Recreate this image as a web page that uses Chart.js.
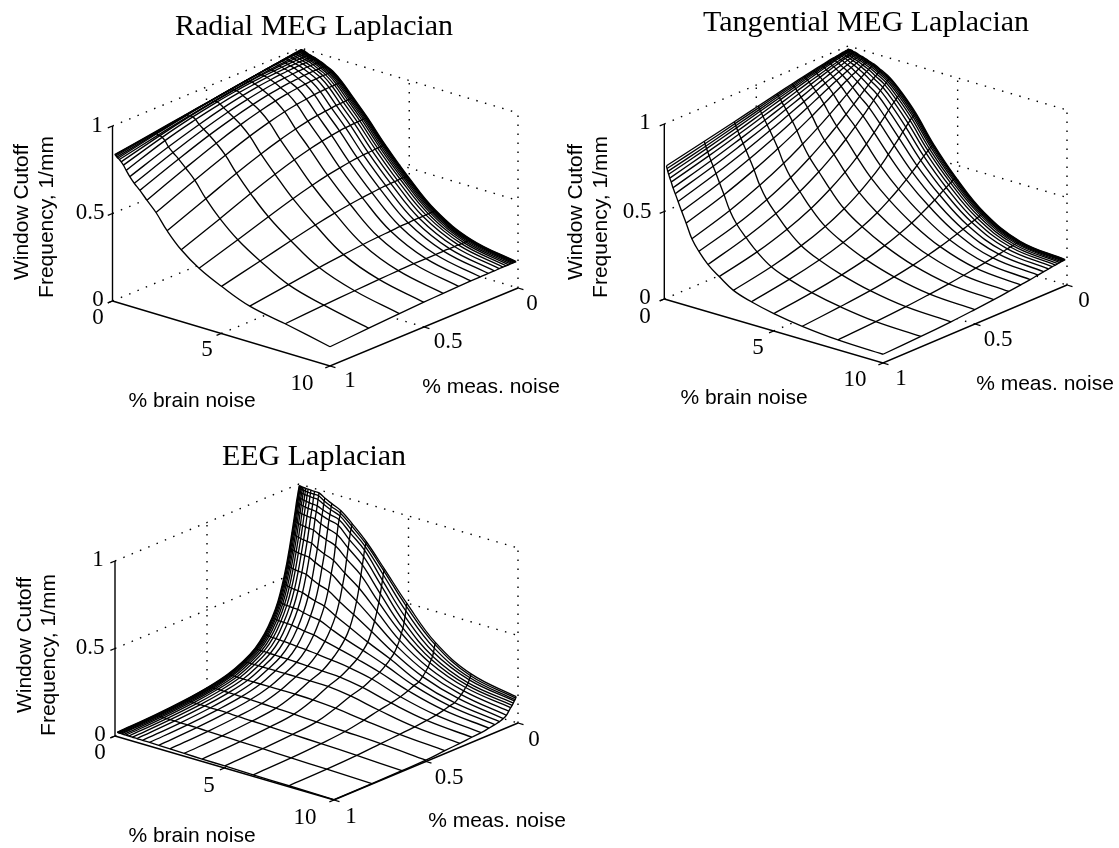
<!DOCTYPE html>
<html>
<head>
<meta charset="utf-8">
<title>Window cutoff frequency</title>
<script src="https://cdn.jsdelivr.net/npm/chart.js@4"></script>
<style>
  body { margin: 0; background: #fff; }
  #page { position: relative; width: 1119px; height: 848px; overflow: hidden; }
  canvas { position: absolute; }
</style>
</head>
<body>
<div id="page">
  <canvas id="radial"></canvas>
  <canvas id="tangential"></canvas>
  <canvas id="eeg"></canvas>
</div>
<script>
var brainLevels = [0.1,0.126,0.158,0.2,0.251,0.316,0.398,0.501,0.631,0.794,1,1.26,1.58,2,2.51,3.16,3.98,5.01,6.31,7.94,10];
var measLevels = [.01,.0126,.0158,.02,.0251,.0316,.0398,.0501,.0631,.0794,.1,.126,.158,.2,.251,.316,.398,.501,.631,.794,1];

var zTicks = [0, 0.5, 1];
var brainTicks = [0, 5, 10];
var measTicks = [0, 0.5, 1];

// one row per brain noise level, one column per meas. noise level
var radialCutoff = [
  [.998,.998,.997,.997,.996,.995,.994,.992,.99,.987,.984,.98,.975,.968,.96,.949,.936,.92,.899,.873,.84],
  [.999,.998,.998,.997,.997,.996,.995,.993,.991,.989,.986,.982,.977,.97,.962,.951,.938,.921,.9,.873,.84],
  [.999,.999,.999,.998,.998,.997,.996,.995,.993,.991,.988,.985,.98,.974,.966,.956,.943,.925,.903,.873,.835],
  [.999,.999,.999,.998,.998,.997,.996,.995,.994,.993,.99,.987,.983,.977,.97,.96,.946,.929,.904,.872,.83],
  [.999,.999,.999,.999,.999,.999,.998,.997,.996,.995,.993,.99,.987,.982,.975,.965,.952,.934,.908,.873,.825],
  [.994,.994,.994,.994,.994,.994,.993,.992,.991,.99,.988,.985,.982,.977,.97,.96,.947,.929,.903,.868,.82],
  [.99,.99,.99,.99,.99,.989,.989,.989,.988,.988,.986,.985,.982,.978,.973,.965,.952,.934,.908,.868,.81],
  [.985,.985,.985,.985,.985,.985,.985,.984,.984,.983,.983,.981,.979,.976,.971,.964,.952,.934,.906,.862,.795],
  [.98,.98,.98,.98,.98,.98,.98,.979,.979,.979,.978,.977,.975,.972,.967,.959,.947,.927,.896,.848,.77],
  [.975,.975,.975,.975,.975,.975,.975,.975,.974,.974,.973,.972,.97,.966,.96,.951,.936,.912,.874,.819,.74],
  [.965,.965,.965,.965,.965,.965,.965,.965,.964,.964,.963,.961,.959,.955,.949,.938,.921,.895,.854,.794,.71],
  [.95,.95,.95,.95,.95,.95,.95,.949,.949,.949,.948,.946,.943,.939,.932,.921,.902,.873,.83,.766,.679],
  [.93,.93,.93,.93,.93,.93,.93,.929,.929,.928,.927,.925,.923,.918,.91,.897,.876,.844,.796,.727,.635],
  [.885,.885,.885,.885,.885,.885,.885,.884,.884,.884,.883,.881,.878,.872,.864,.851,.828,.794,.743,.673,.58],
  [.815,.815,.815,.815,.814,.814,.814,.813,.812,.811,.81,.807,.803,.797,.787,.771,.747,.711,.659,.586,.495],
  [.725,.725,.725,.725,.725,.725,.724,.723,.723,.722,.72,.718,.714,.707,.697,.681,.656,.619,.567,.496,.41],
  [.6,.6,.6,.6,.6,.599,.599,.598,.598,.596,.595,.593,.59,.584,.575,.562,.541,.51,.465,.406,.335],
  [.46,.46,.46,.46,.46,.46,.46,.46,.458,.458,.457,.456,.453,.449,.443,.434,.42,.398,.366,.323,.27],
  [.31,.31,.31,.31,.31,.31,.31,.31,.309,.308,.308,.308,.306,.304,.3,.296,.289,.277,.261,.236,.205],
  [.205,.205,.205,.205,.205,.205,.205,.205,.205,.205,.205,.205,.205,.204,.203,.203,.2,.196,.189,.179,.165],
  [.155,.155,.155,.155,.155,.155,.155,.155,.155,.155,.155,.154,.154,.153,.152,.15,.147,.142,.135,.124,.11]
];

var tangentialCutoff = [
  [.989,.989,.989,.988,.988,.987,.986,.984,.982,.979,.976,.971,.964,.955,.944,.929,.909,.884,.852,.813,.765],
  [.989,.989,.989,.988,.987,.986,.985,.984,.981,.978,.974,.969,.962,.952,.94,.924,.903,.876,.842,.8,.75],
  [.989,.989,.988,.988,.987,.986,.985,.983,.981,.977,.973,.967,.96,.949,.936,.919,.896,.867,.831,.787,.735],
  [.989,.989,.988,.988,.987,.986,.984,.982,.98,.977,.972,.965,.957,.946,.932,.913,.889,.859,.821,.775,.72],
  [.989,.989,.988,.987,.987,.985,.984,.982,.979,.975,.97,.963,.954,.942,.926,.906,.88,.847,.806,.758,.7],
  [.984,.984,.983,.982,.981,.98,.978,.976,.973,.969,.963,.956,.946,.933,.917,.895,.867,.833,.79,.739,.68],
  [.984,.983,.983,.982,.981,.979,.977,.975,.971,.967,.96,.952,.941,.926,.907,.883,.852,.814,.768,.713,.65],
  [.979,.978,.977,.976,.975,.974,.971,.968,.965,.959,.952,.943,.931,.914,.894,.867,.834,.792,.743,.685,.62],
  [.973,.973,.972,.971,.969,.967,.965,.962,.957,.951,.943,.932,.918,.9,.876,.846,.809,.763,.709,.648,.58],
  [.968,.967,.966,.965,.963,.961,.958,.954,.948,.941,.931,.918,.902,.88,.853,.818,.776,.725,.666,.6,.53],
  [.958,.957,.955,.954,.952,.949,.945,.94,.933,.924,.912,.897,.877,.851,.818,.778,.73,.674,.61,.541,.47],
  [.947,.945,.944,.942,.939,.935,.93,.923,.914,.902,.886,.866,.84,.807,.767,.719,.663,.599,.531,.46,.39],
  [.926,.924,.922,.919,.916,.911,.904,.896,.885,.87,.851,.826,.796,.757,.712,.658,.597,.53,.461,.393,.33],
  [.895,.893,.891,.888,.883,.877,.87,.86,.846,.83,.807,.779,.744,.702,.652,.595,.532,.465,.397,.333,.27],
  [.834,.832,.829,.825,.82,.813,.805,.794,.779,.76,.734,.704,.667,.621,.569,.512,.451,.387,.326,.269,.22],
  [.739,.736,.733,.729,.724,.717,.708,.696,.68,.66,.634,.603,.566,.52,.472,.419,.363,.308,.256,.208,.165],
  [.59,.588,.586,.583,.579,.572,.565,.556,.544,.527,.507,.482,.452,.417,.378,.334,.29,.246,.204,.166,.13],
  [.436,.435,.434,.431,.429,.424,.419,.412,.403,.392,.378,.359,.339,.313,.284,.253,.22,.187,.157,.128,.1],
  [.283,.282,.282,.28,.279,.277,.274,.27,.265,.259,.25,.24,.228,.213,.196,.177,.156,.135,.114,.095,.075],
  [.179,.179,.178,.178,.177,.176,.174,.172,.17,.167,.162,.157,.15,.142,.133,.121,.109,.096,.082,.069,.057],
  [.149,.149,.149,.148,.148,.147,.146,.144,.142,.14,.136,.132,.127,.12,.113,.104,.094,.083,.071,.06,.05]
];

var eegCutoff = [
  [1,.985,.97,.945,.915,.87,.815,.75,.67,.58,.485,.39,.31,.235,.175,.13,.093,.067,.048,.034,.025],
  [.999,.984,.969,.943,.913,.868,.813,.747,.668,.578,.483,.389,.309,.234,.175,.13,.093,.067,.048,.034,.025],
  [.998,.983,.967,.94,.91,.866,.81,.744,.665,.575,.48,.387,.308,.233,.174,.13,.092,.067,.048,.034,.024],
  [.997,.982,.966,.938,.908,.864,.808,.741,.663,.573,.478,.386,.307,.232,.174,.13,.092,.066,.047,.033,.024],
  [.996,.981,.964,.935,.905,.862,.805,.738,.66,.57,.475,.384,.306,.231,.173,.13,.092,.066,.047,.033,.024],
  [.995,.98,.963,.933,.903,.86,.803,.735,.658,.568,.473,.383,.305,.23,.173,.13,.092,.066,.047,.033,.024],
  [.994,.979,.961,.93,.9,.858,.8,.732,.655,.565,.47,.381,.304,.229,.172,.13,.091,.066,.047,.033,.023],
  [.993,.978,.96,.928,.898,.856,.798,.729,.653,.563,.468,.38,.303,.228,.172,.13,.091,.066,.047,.033,.023],
  [.992,.977,.958,.925,.895,.854,.795,.726,.65,.56,.465,.378,.302,.227,.171,.13,.091,.065,.046,.032,.023],
  [.991,.976,.957,.923,.893,.852,.793,.723,.648,.558,.463,.377,.301,.226,.171,.13,.09,.065,.046,.032,.022],
  [.99,.975,.955,.92,.89,.85,.79,.72,.645,.555,.46,.375,.3,.225,.17,.13,.09,.065,.046,.032,.022],
  [.97,.955,.937,.907,.877,.833,.773,.7,.627,.537,.447,.367,.293,.222,.168,.13,.09,.064,.045,.031,.021],
  [.95,.935,.918,.893,.863,.817,.757,.68,.608,.518,.433,.358,.287,.218,.167,.13,.09,.063,.045,.031,.021],
  [.925,.912,.898,.878,.848,.798,.738,.658,.588,.499,.419,.349,.28,.215,.165,.13,.09,.062,.044,.03,.02],
  [.87,.858,.84,.82,.785,.74,.68,.605,.535,.455,.382,.32,.262,.207,.162,.13,.09,.058,.041,.028,.018],
  [.79,.78,.765,.746,.711,.667,.612,.543,.474,.405,.34,.286,.242,.198,.158,.13,.09,.055,.039,.026,.016],
  [.665,.655,.634,.604,.573,.532,.486,.44,.389,.338,.286,.25,.215,.184,.153,.128,.087,.051,.035,.023,.014],
  [.505,.49,.465,.434,.404,.374,.348,.313,.283,.252,.227,.202,.177,.157,.131,.111,.077,.044,.03,.02,.012],
  [.33,.32,.3,.278,.258,.242,.227,.206,.186,.165,.144,.134,.119,.103,.09,.077,.057,.037,.025,.015,.009],
  [.21,.2,.19,.18,.165,.155,.145,.13,.115,.1,.085,.078,.068,.058,.05,.042,.035,.027,.017,.01,.006],
  [.155,.148,.14,.135,.125,.115,.105,.09,.072,.06,.052,.046,.04,.033,.029,.023,.017,.008,.005,.003,.002]
];

var SERIF = "'Liberation Serif', serif";
var SANS = "'Liberation Sans', sans-serif";
var INK = '#000';

function project(panel, brain, meas, z) {
  var b = brain / 10, t = 1 - meas;
  return {
    x: panel.left.x + b * (panel.front.x - panel.left.x) + t * (panel.right.x - panel.front.x),
    y: panel.left.y + b * (panel.front.y - panel.left.y) + t * (panel.right.y - panel.front.y) - z * panel.unit
  };
}

function lineSet(points, width, dash, tension) {
  return {
    data: points, showLine: true, fill: false, tension: tension || 0, pointRadius: 0, clip: false,
    borderColor: INK, borderWidth: width, borderDash: dash || []
  };
}

// white sheet under the mesh lines, it hides the dotted walls behind the surface
function sheetSet(points) {
  return {
    data: points, showLine: true, fill: 'shape', tension: 0, pointRadius: 0, clip: false,
    backgroundColor: '#fff', borderColor: '#fff', borderWidth: 1
  };
}

// datasets[0] is painted last, so the list runs from the front marks to the walls
function buildDatasets(panel, cutoff) {
  var sets = [];
  var p = function (b, m, z) { return project(panel, b, m, z); };
  var nb = brainLevels.length, nm = measLevels.length;
  var i, j, row, outline = [];

  sets.push(lineSet([p(0, 1, 0), p(0, 1, 1)], 1.4));
  sets.push(lineSet([p(0, 1, 0), p(10, 1, 0), p(10, 0, 0)], 1.4));
  zTicks.forEach(function (z) { sets.push(lineSet([p(0, 1, z), p(0, 1.025, z)], 1.3)); });
  brainTicks.forEach(function (b) { sets.push(lineSet([p(b, 1, 0), p(b, 1.025, 0)], 1.3)); });
  measTicks.forEach(function (m) { sets.push(lineSet([p(10, m, 0), p(10.25, m, 0)], 1.3)); });

  for (i = 0; i < nb; i++) {
    row = [];
    for (j = 0; j < nm; j++) row.push(p(brainLevels[i], measLevels[j], cutoff[i][j]));
    sets.push(lineSet(row, 1.35, null, 0.4));
  }
  for (j = 0; j < nm; j++) {
    row = [];
    for (i = 0; i < nb; i++) row.push(p(brainLevels[i], measLevels[j], cutoff[i][j]));
    sets.push(lineSet(row, 1.35, null, 0.4));
  }

  for (j = 0; j < nm; j++) outline.push(p(brainLevels[0], measLevels[j], cutoff[0][j]));
  for (i = 1; i < nb; i++) outline.push(p(brainLevels[i], measLevels[nm - 1], cutoff[i][nm - 1]));
  for (j = nm - 2; j >= 0; j--) outline.push(p(brainLevels[nb - 1], measLevels[j], cutoff[nb - 1][j]));
  for (i = nb - 2; i >= 0; i--) outline.push(p(brainLevels[i], measLevels[0], cutoff[i][0]));
  sets.push(sheetSet(outline));

  var dots = [1.5, 7.5];
  zTicks.forEach(function (z) {
    sets.push(lineSet([p(0, 1, z), p(0, 0, z), p(10, 0, z)], 1.4, dots));
  });
  sets.push(lineSet([p(5, 0, 0), p(5, 0, 1)], 1.4, dots));
  sets.push(lineSet([p(10, 0, 0), p(10, 0, 1)], 1.4, dots));
  sets.push(lineSet([p(0, 0.5, 0), p(0, 0.5, 1)], 1.4, dots));
  sets.push(lineSet([p(0, 0, 0), p(0, 0, 1)], 1.4, dots));
  sets.push(lineSet([p(5, 1, 0), p(5, 0, 0)], 1.4, dots));
  sets.push(lineSet([p(10, 0.5, 0), p(0, 0.5, 0)], 1.4, dots));
  return sets;
}

var textPlugin = {
  id: 'panelText',
  afterDraw: function (chart, args, opts) {
    var ctx = chart.ctx, sx = chart.scales.x, sy = chart.scales.y;
    opts.items.forEach(function (item) {
      ctx.save();
      ctx.font = item.font;
      ctx.fillStyle = '#000';
      ctx.textAlign = 'center';
      ctx.textBaseline = 'middle';
      ctx.translate(sx.getPixelForValue(item.x), sy.getPixelForValue(item.y));
      if (item.rotate) ctx.rotate(item.rotate);
      ctx.fillText(item.text, 0, 0);
      ctx.restore();
    });
  }
};

function tick(text, x, y) { return { text: text, x: x, y: y, font: '23px ' + SERIF }; }
function axisName(text, x, y, rotate) { return { text: text, x: x, y: y, font: '21px ' + SANS, rotate: rotate ? -Math.PI / 2 : 0 }; }
function heading(text, x, y) { return { text: text, x: x, y: y, font: '30px ' + SERIF }; }

function drawPanel(id, box, panel, cutoff, labels) {
  var canvas = document.getElementById(id);
  canvas.style.left = box.x + 'px';
  canvas.style.top = box.y + 'px';
  canvas.width = box.w;
  canvas.height = box.h;

  var local = {
    unit: panel.unit,
    left: { x: panel.left.x - box.x, y: panel.left.y - box.y },
    front: { x: panel.front.x - box.x, y: panel.front.y - box.y },
    right: { x: panel.right.x - box.x, y: panel.right.y - box.y }
  };
  var items = labels.map(function (item) {
    return Object.assign({}, item, { x: item.x - box.x, y: item.y - box.y });
  });

  return new Chart(canvas, {
    type: 'scatter',
    data: { datasets: buildDatasets(local, cutoff) },
    plugins: [textPlugin],
    options: {
      responsive: false,
      animation: false,
      events: [],
      layout: { padding: 0 },
      scales: {
        x: { type: 'linear', display: false, min: 0, max: box.w },
        y: { type: 'linear', display: false, min: 0, max: box.h, reverse: true }
      },
      plugins: {
        legend: { display: false },
        tooltip: { enabled: false },
        title: { display: false },
        panelText: { items: items }
      }
    }
  });
}

drawPanel('radial', { x: 0, y: 0, w: 566, h: 430 },
  { left: { x: 112.5, y: 301 }, front: { x: 330, y: 366 }, right: { x: 518, y: 288 }, unit: 175 },
  radialCutoff,
  [
    heading('Radial MEG Laplacian', 314, 27),
    tick('1', 97, 126), tick('0.5', 90, 213), tick('0', 98, 300),
    tick('0', 98, 318), tick('5', 207, 350), tick('10', 302, 384),
    tick('1', 350, 381), tick('0.5', 448, 342), tick('0', 532, 304),
    axisName('% brain noise', 192, 401),
    axisName('% meas. noise', 491, 387),
    axisName('Window Cutoff', 22, 212, true),
    axisName('Frequency, 1/mm', 47, 217, true)
  ]);

drawPanel('tangential', { x: 566, y: 0, w: 553, h: 430 },
  { left: { x: 664.3, y: 299 }, front: { x: 883, y: 363 }, right: { x: 1067, y: 285 }, unit: 175 },
  tangentialCutoff,
  [
    heading('Tangential MEG Laplacian', 866, 23),
    tick('1', 645, 123), tick('0.5', 637, 212), tick('0', 645, 298),
    tick('0', 645, 317), tick('5', 758, 348), tick('10', 855, 380),
    tick('1', 901, 379), tick('0.5', 998, 340), tick('0', 1084, 301),
    axisName('% brain noise', 744, 398),
    axisName('% meas. noise', 1045, 384),
    axisName('Window Cutoff', 576, 212, true),
    axisName('Frequency, 1/mm', 601, 217, true)
  ]);

drawPanel('eeg', { x: 0, y: 430, w: 566, h: 418 },
  { left: { x: 115, y: 736 }, front: { x: 334, y: 800 }, right: { x: 518, y: 723 }, unit: 175 },
  eegCutoff,
  [
    heading('EEG Laplacian', 314, 457),
    tick('1', 98, 560), tick('0.5', 90, 648), tick('0', 100, 735),
    tick('0', 100, 753), tick('5', 209, 786), tick('10', 305, 818),
    tick('1', 351, 817), tick('0.5', 449, 778), tick('0', 534, 740),
    axisName('% brain noise', 192, 836),
    axisName('% meas. noise', 497, 821),
    axisName('Window Cutoff', 25, 645, true),
    axisName('Frequency, 1/mm', 49, 655, true)
  ]);
</script>
</body>
</html>
